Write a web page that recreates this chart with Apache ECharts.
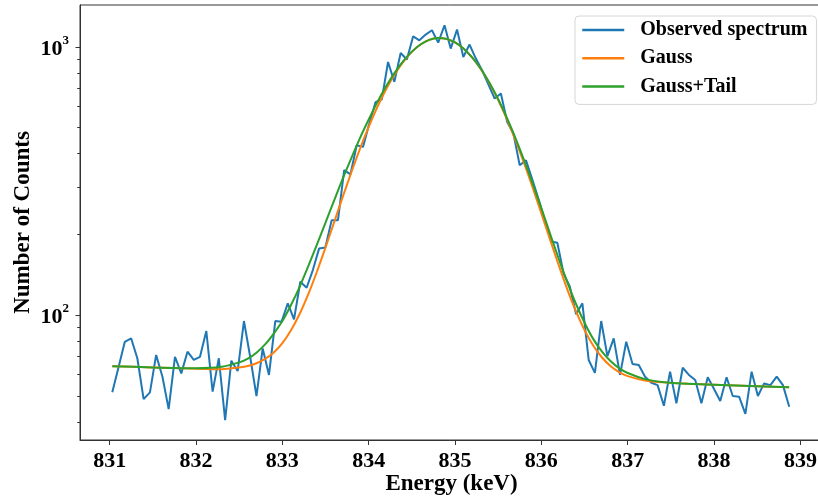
<!DOCTYPE html>
<html>
<head>
<meta charset="utf-8">
<script src="https://cdn.jsdelivr.net/npm/echarts@6/dist/echarts.min.js"></script>
<style>
html,body{margin:0;padding:0;background:#fff;}
#chart{width:818px;height:498px;}
</style>
</head>
<body>
<div id="chart"></div>
<script>
// ---- data ----
const energy = [
831.030,831.103,831.175,831.248,831.320,831.393,831.466,831.538,831.611,831.683,
831.756,831.829,831.901,831.974,832.046,832.119,832.192,832.264,832.337,832.409,
832.482,832.555,832.627,832.700,832.772,832.845,832.918,832.990,833.063,833.135,
833.208,833.281,833.353,833.426,833.498,833.571,833.644,833.716,833.789,833.861,
833.934,834.007,834.079,834.152,834.224,834.297,834.370,834.442,834.515,834.587,
834.660,834.733,834.805,834.878,834.950,835.023,835.096,835.168,835.241,835.313,
835.386,835.459,835.531,835.604,835.676,835.749,835.822,835.894,835.967,836.039,
836.112,836.185,836.257,836.330,836.402,836.475,836.548,836.620,836.693,836.765,
836.838,836.911,836.983,837.056,837.128,837.201,837.274,837.346,837.419,837.491,
837.564,837.637,837.709,837.782,837.854,837.927,838.000,838.072,838.145,838.217,
838.290,838.363,838.435,838.508,838.580,838.653,838.726,838.798,838.871
];
const observed = [
51.5,64.0,79.5,81.9,69.0,48.6,51.5,71.0,58.9,44.6,
69.9,60.6,73.0,68.0,69.9,87.2,51.8,69.0,40.6,67.6,
61.8,95.0,69.9,49.9,75.1,59.8,95.0,94.4,110.6,96.4,
133.1,126.4,147.2,177.3,178.8,226,226,347,335,430,
424,518,622,638,879,741,950,898,1096,1059,
1112,1154,1038,1205,986,1161,918,1021,905,819,
726,642,671,525,476,362,378,321,271,226,
188,186,143,127.5,100.6,110.6,68.0,60.9,95.0,70.3,
81.9,59.8,79.5,65.7,65.1,58.9,55.9,54.8,45.9,61.5,
46.9,63.6,59.8,57.3,46.9,58.6,53.0,47.8,58.6,49.9,
49.6,42.8,61.5,49.9,55.6,54.8,58.9,54.8,45.5
];
const fitEnergy = [
831.03,831.5,832.0,832.3,832.5,832.6,832.7,832.8,832.9,833.0,
833.1,833.2,833.3,833.4,833.5,833.6,833.7,833.8,833.9,834.0,
834.1,834.2,834.3,834.4,834.5,834.6,834.7,834.8,834.9,835.0,
835.1,835.2,835.3,835.4,835.5,835.6,835.7,835.8,835.9,836.0,
836.1,836.2,836.3,836.4,836.5,836.6,836.7,836.8,836.9,837.0,
837.2,837.4,837.7,838.0,838.5,838.87
];
const gaussFit = [
64.5,63.8,63.1,62.8,63.8,64.6,66.1,68.6,72.5,78.6,
87.8,100.9,119.6,145.1,178.8,222.3,276.5,341.8,418.1,503.9,
597.2,694.2,790.0,880.4,958.8,1021.2,1062.5,1079.9,1072.2,1039.9,
985.5,912.5,826.0,731.3,633.9,538.5,448.9,368.4,298.4,239.4,
191.5,153.8,124.8,103.4,87.9,77.0,69.6,64.6,61.3,59.2,
57.0,56.1,55.4,55.0,54.3,53.8
];
const tailFit = [
64.5,63.8,63.4,64.2,66.6,68.8,72.4,77.7,85.3,95.0,
109.1,127.5,152.2,183.3,221.3,267.8,323.3,386.0,458.3,536.3,
622.6,711.7,800.6,885.6,960.8,1021.2,1062.5,1079.9,1072.2,1039.9,
985.5,912.5,827.3,734.1,638.4,545.0,457.2,377.9,308.8,250.1,
201.4,162.6,132.7,110.2,93.6,81.5,73.2,67.4,63.4,60.8,
57.7,56.3,55.4,55.0,54.3,53.8
];
const seriesNames = ['Observed spectrum', 'Gauss', 'Gauss+Tail'];
const xTicks = [831, 832, 833, 834, 835, 836, 837, 838, 839];
const yMajorTicks = [100, 1000];
const yMinorTicks = [40, 50, 60, 70, 80, 90, 200, 300, 400, 500, 600, 700, 800, 900];

// ---- chart ----
const FONT = '"Liberation Serif", "Times New Roman", serif';
const AX = '#333';
const pairs = (xs, ys) => xs.map((x, i) => [x, ys[i]]);

const chart = echarts.init(document.getElementById('chart'), null, {renderer: 'canvas'});
const logMin = 34.2, logMax = 1434;

chart.setOption({
  animation: false,
  backgroundColor: '#fff',
  grid: {left: 80, right: -5, top: 5, bottom: 58, show: true, borderColor: AX, borderWidth: 1, backgroundColor: 'transparent', containLabel: false, outerBoundsMode: 'none'},
  xAxis: {
    type: 'value', min: 830.656, max: 839.262,
    axisLine: {show: true, lineStyle: {color: AX, width: 1}},
    axisTick: {show: true, customValues: xTicks, length: 5, lineStyle: {color: AX, width: 1}},
    axisLabel: {customValues: xTicks, margin: 10, color: '#000', fontFamily: FONT, fontWeight: 'bold', fontSize: 22},
    splitLine: {show: false},
    name: 'Energy (keV)', nameLocation: 'middle', nameGap: 33, nameMoveOverlap: false,
    nameTextStyle: {color: '#000', fontFamily: FONT, fontWeight: 'bold', fontSize: 23}
  },
  yAxis: [{
    type: 'log', logBase: 10, min: logMin, max: logMax,
    axisLine: {show: true, lineStyle: {color: AX, width: 1}},
    axisTick: {show: true, customValues: yMajorTicks, length: 4.5, lineStyle: {color: AX, width: 1}},
    axisLabel: {
      customValues: yMajorTicks, margin: 11,
      formatter: v => '{n|10}{s|' + Math.round(Math.log10(v)) + '}',
      rich: {
        n: {color: '#000', fontFamily: FONT, fontWeight: 'bold', fontSize: 22, lineHeight: 26, verticalAlign: 'bottom'},
        s: {color: '#000', fontFamily: FONT, fontWeight: 'bold', fontSize: 13, lineHeight: 14, verticalAlign: 'top'}
      }
    },
    splitLine: {show: false},
    minorTick: {show: false},
    name: 'Number of Counts', nameLocation: 'middle', nameGap: 45, nameMoveOverlap: false,
    nameTextStyle: {color: '#000', fontFamily: FONT, fontWeight: 'bold', fontSize: 23}
  }, {
    type: 'log', logBase: 10, min: logMin, max: logMax, position: 'left',
    axisLine: {show: false},
    axisTick: {show: true, customValues: yMinorTicks, length: 2.8, lineStyle: {color: AX, width: 1}},
    axisLabel: {show: false},
    splitLine: {show: false}
  }],
  legend: {
    orient: 'vertical', left: 575, top: 16,
    data: seriesNames,
    itemWidth: 42, itemHeight: 20, itemGap: 8.2,
    padding: [4, 9, 8, 6],
    borderColor: '#d6d6d6', borderWidth: 1, borderRadius: 4,
    backgroundColor: 'rgba(255,255,255,0.85)',
    itemStyle: {opacity: 0},
    lineStyle: {width: 2.5},
    textStyle: {color: '#000', fontFamily: FONT, fontWeight: 'bold', fontSize: 20, lineHeight: 20, padding: [0, 0, 0, 11]}
  },
  series: [
    {name: seriesNames[0], type: 'line', data: pairs(energy, observed), symbol: 'none', lineStyle: {color: '#1f77b4', width: 2}, itemStyle: {color: '#1f77b4'}, z: 2},
    {name: seriesNames[1], type: 'line', data: pairs(fitEnergy, gaussFit), symbol: 'none', smooth: 0.2, lineStyle: {color: '#ff7f0e', width: 2}, itemStyle: {color: '#ff7f0e'}, z: 3},
    {name: seriesNames[2], type: 'line', data: pairs(fitEnergy, tailFit), symbol: 'none', smooth: 0.2, lineStyle: {color: '#2ca02c', width: 2}, itemStyle: {color: '#2ca02c'}, z: 4}
  ]
});
</script>
</body>
</html>
